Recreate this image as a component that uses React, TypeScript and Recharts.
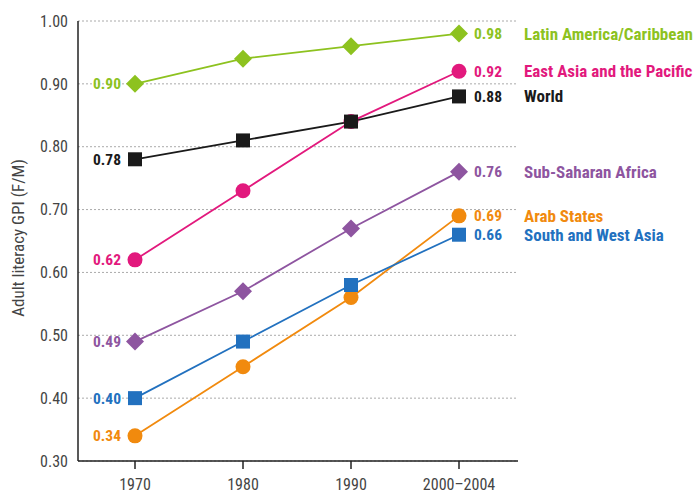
import React from 'react';
import { LineChart, Line, XAxis, YAxis, CartesianGrid } from 'recharts';

const years = ['1970', '1980', '1990', '2000–2004'];

const latinAmerica = [0.90, 0.94, 0.96, 0.98];
const eastAsia = [0.62, 0.73, 0.84, 0.92];
const world = [0.78, 0.81, 0.84, 0.88];
const subSaharan = [0.49, 0.57, 0.67, 0.76];
const arabStates = [0.34, 0.45, 0.56, 0.69];
const southWestAsia = [0.40, 0.49, 0.58, 0.66];

const yTicks = [0.3, 0.4, 0.5, 0.6, 0.7, 0.8, 0.9, 1.0];

const series = [
    { key: 'latin', name: 'Latin America/Caribbean', values: latinAmerica, color: '#8dc21f', shape: 'diamond' },
    { key: 'eastAsia', name: 'East Asia and the Pacific', values: eastAsia, color: '#e2197d', shape: 'circle' },
    { key: 'world', name: 'World', values: world, color: '#1a1a1a', shape: 'square' },
    { key: 'ssa', name: 'Sub-Saharan Africa', values: subSaharan, color: '#8e55a0', shape: 'diamond' },
    { key: 'arab', name: 'Arab States', values: arabStates, color: '#f18a0e', shape: 'circle' },
    { key: 'swa', name: 'South and West Asia', values: southWestAsia, color: '#2271bf', shape: 'square' },
];

const data = years.map((year, i) => {
    const row: any = { year };
    series.forEach(s => { row[s.key] = s.values[i]; });
    return row;
});

const FONT = '"Liberation Sans Narrow", "Roboto Condensed", Roboto, sans-serif';

const makeDot = (s: typeof series[number]) => (props: any) => {
    const { cx, cy, index, value } = props;
    if (cx == null || cy == null) return <g key={`${s.key}-${index}`} />;
    let marker;
    if (s.shape === 'circle') {
        marker = <circle cx={cx} cy={cy} r={7.5} fill={s.color} />;
    } else if (s.shape === 'square') {
        marker = <rect x={cx - 7} y={cy - 7} width={14} height={14} fill={s.color} />;
    } else {
        const d = 9;
        marker = <polygon points={`${cx},${cy - d} ${cx + d},${cy} ${cx},${cy + d} ${cx - d},${cy}`} fill={s.color} />;
    }
    const label = Number(value).toFixed(2);
    return (
        <g key={`${s.key}-${index}`}>
            {marker}
            {index === 0 && (
                <text x={cx - 14} y={cy} dy="0.35em" textAnchor="end" fill={s.color}
                    fontFamily={FONT} fontWeight="bold" fontSize={15.5}>{label}</text>
            )}
            {index === years.length - 1 && (
                <>
                    <text x={cx + 15} y={cy} dy="0.35em" textAnchor="start" fill={s.color}
                        fontFamily={FONT} fontWeight="bold" fontSize={15.5}>{label}</text>
                    <text x={cx + 65} y={cy} dy="0.35em" textAnchor="start" fill={s.color}
                        fontFamily={FONT} fontWeight="bold" fontSize={17}>{s.name}</text>
                </>
            )}
        </g>
    );
};

const YLabel = (props: any) => {
    const { viewBox } = props;
    const cy = viewBox.y + viewBox.height / 2 - 3;
    return (
        <text x={18} y={cy} transform={`rotate(-90, 18, ${cy})`} textAnchor="middle" dy="0.35em"
            fill="#444" fontFamily={FONT} fontSize={17}>Adult literacy GPI (F/M)</text>
    );
};

export default function App() {
    return (
        <div style={{ position: 'absolute', left: 0, top: 0, background: '#fff' }}>
            <LineChart width={697} height={496} data={data}
                margin={{ top: 21, right: 179, bottom: 5, left: 18 }}>
                <CartesianGrid horizontal vertical={false} stroke="#aaa" strokeDasharray="2 2" />
                <XAxis dataKey="year" padding={{ left: 57, right: 59 }} height={30}
                    axisLine={{ stroke: '#222', strokeWidth: 1.5 }}
                    tickLine={{ stroke: '#222', strokeWidth: 1.5 }} tickSize={8} tickMargin={10}
                    tick={{ fill: '#444', fontSize: 16, fontFamily: FONT }} />
                <YAxis type="number" domain={[0.3, 1.0]} ticks={yTicks} width={60}
                    tickFormatter={(v: number) => v.toFixed(2)}
                    axisLine={{ stroke: '#222', strokeWidth: 1.5 }} tickLine={false}
                    tickSize={0} tickMargin={10}
                    tick={{ fill: '#444', fontSize: 16, fontFamily: FONT }}
                    label={<YLabel />} />
                {series.map(s => (
                    <Line key={s.key} dataKey={s.key} type="linear" stroke={s.color} strokeWidth={1.8}
                        dot={makeDot(s)} activeDot={false} isAnimationActive={false} />
                ))}
            </LineChart>
        </div>
    );
}
